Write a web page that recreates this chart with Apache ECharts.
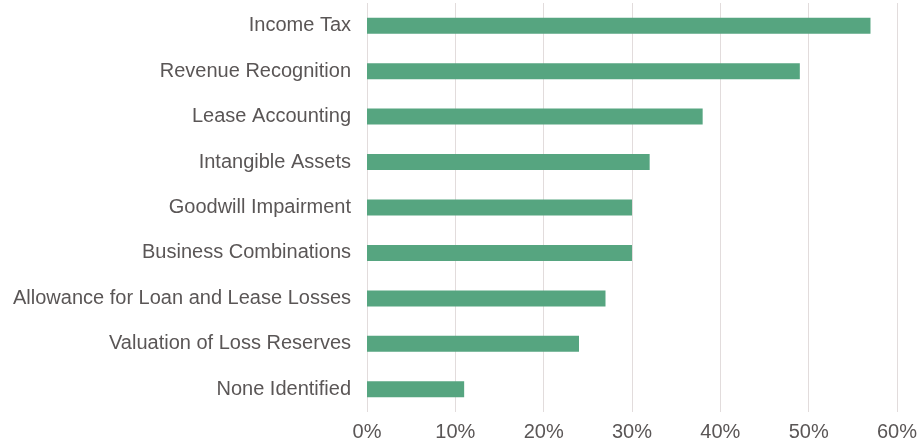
<!DOCTYPE html>
<html><head><meta charset="utf-8">
<script src="https://cdn.jsdelivr.net/npm/echarts@6/dist/echarts.min.js"></script>
<style>html,body{margin:0;padding:0;background:#fff}#c{width:920px;height:443px}</style>
</head><body><div id="c"></div>
<script>
const categories = ["Income Tax","Revenue Recognition","Lease Accounting","Intangible Assets","Goodwill Impairment","Business Combinations","Allowance for Loan and Lease Losses","Valuation of Loss Reserves","None Identified"];
const values = [57,49,38,32,30,30,27,24,11];
const chart = echarts.init(document.getElementById('c'));
chart.setOption({
  animation:false,
  grid:{left:367,right:21,top:3,bottom:31,containLabel:false},
  xAxis:{type:'value',min:0,max:60,interval:10,
    axisLabel:{formatter:'{value}%',color:'#5a5656',fontSize:20,fontFamily:'Liberation Sans',margin:10},
    axisLine:{show:false},axisTick:{show:false},
    splitLine:{lineStyle:{color:'#e2dcdc',width:1}}},
  yAxis:{type:'category',data:categories,inverse:true,
    axisLabel:{color:'#5a5656',fontSize:20,fontFamily:'Liberation Sans',margin:16},
    axisLine:{show:false},axisTick:{show:false}},
  series:[{type:'bar',data:values,barWidth:16,itemStyle:{color:'#56a580'}}]
});
</script></body></html>
